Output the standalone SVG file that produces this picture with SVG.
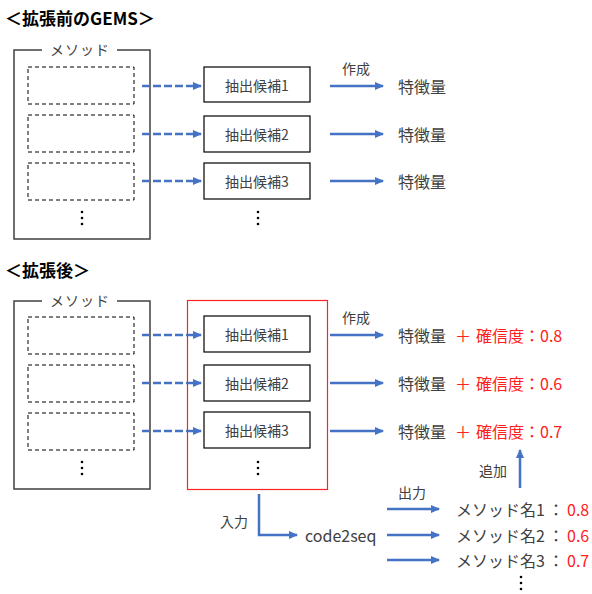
<svg xmlns="http://www.w3.org/2000/svg" width="592" height="594" viewBox="0 0 592 594">
<style>
text{font-family:"Noto Sans CJK JP","Noto Sans",sans-serif;fill:#404040;dominant-baseline:central}
.title{font-weight:bold;font-size:17px;fill:#000}
.frame{fill:none;stroke:#404040;stroke-width:1.5}
.dash{fill:none;stroke:#000;stroke-width:1;stroke-dasharray:4 3}
.cand{fill:#fff;stroke:#000;stroke-width:1.2}
.ct{font-size:14px;text-anchor:middle}
.lbl{font-size:14px}
.fl{font-size:14px;text-anchor:middle;letter-spacing:1px}
.big{font-size:16px}
.red{fill:#FF2020}
.da{stroke:#4472C4;stroke-width:2.5;stroke-dasharray:8 3;fill:none;marker-end:url(#ah)}
.sa{stroke:#4472C4;stroke-width:2.5;fill:none;marker-end:url(#ah)}
.dot{fill:#000}
</style>
<defs>
<marker id="ah" markerWidth="10" markerHeight="10" refX="8" refY="5" orient="auto" markerUnits="userSpaceOnUse">
<path d="M0,1 L9,5 L0,9 Z" fill="#4472C4"/>
</marker>
</defs>

<text class="title" x="5" y="17">＜拡張前のGEMS＞</text>
<text class="title" x="5" y="269">＜拡張後＞</text>

<g id="methods-before">
<path class="frame" d="M42,50 H14 V239 H150 V50 H117"/>
<text class="fl" x="80" y="49">メソッド</text>
<rect class="dash" x="28" y="67" width="106" height="37"/>
<rect class="dash" x="28" y="115" width="106" height="37"/>
<rect class="dash" x="28" y="163" width="106" height="37"/>
<circle class="dot" cx="82" cy="212" r="1.3"/><circle class="dot" cx="82" cy="218" r="1.3"/><circle class="dot" cx="82" cy="224" r="1.3"/>
</g>

<g id="cands-before">
<rect class="cand" x="204" y="67" width="106" height="35"/><text class="ct" x="257" y="84.5">抽出候補1</text>
<rect class="cand" x="204" y="116" width="106" height="36"/><text class="ct" x="257" y="134">抽出候補2</text>
<rect class="cand" x="204" y="163" width="106" height="36"/><text class="ct" x="257" y="181">抽出候補3</text>
<circle class="dot" cx="258" cy="212" r="1.3"/><circle class="dot" cx="258" cy="218" r="1.3"/><circle class="dot" cx="258" cy="224" r="1.3"/>
</g>

<g id="feat-before">
<text class="big" x="398" y="86">特徴量</text>
<text class="big" x="398" y="134">特徴量</text>
<text class="big" x="398" y="181">特徴量</text>
</g>

<g id="methods-after">
<path class="frame" d="M42,301 H14 V489 H150 V301 H117"/>
<text class="fl" x="80" y="300">メソッド</text>
<rect class="dash" x="28" y="317" width="106" height="37"/>
<rect class="dash" x="28" y="365" width="106" height="37"/>
<rect class="dash" x="28" y="413" width="106" height="37"/>
<circle class="dot" cx="82" cy="462" r="1.3"/><circle class="dot" cx="82" cy="468" r="1.3"/><circle class="dot" cx="82" cy="474" r="1.3"/>
</g>

<g id="cands-after">
<rect x="187.5" y="300.5" width="140" height="189" fill="none" stroke="#FF2020" stroke-width="1.2"/>
<rect class="cand" x="204" y="316" width="106" height="36"/><text class="ct" x="257" y="334">抽出候補1</text>
<rect class="cand" x="204" y="365" width="106" height="36"/><text class="ct" x="257" y="383">抽出候補2</text>
<rect class="cand" x="204" y="412" width="106" height="36"/><text class="ct" x="257" y="430">抽出候補3</text>
<circle class="dot" cx="258" cy="462" r="1.3"/><circle class="dot" cx="258" cy="468" r="1.3"/><circle class="dot" cx="258" cy="474" r="1.3"/>
</g>

<g id="feat-after">
<text class="big" x="398" y="335">特徴量<tspan class="red" x="455">＋</tspan><tspan class="red" x="476">確信度：0.8</tspan></text>
<text class="big" x="398" y="383">特徴量<tspan class="red" x="455">＋</tspan><tspan class="red" x="476">確信度：0.6</tspan></text>
<text class="big" x="398" y="431">特徴量<tspan class="red" x="455">＋</tspan><tspan class="red" x="476">確信度：0.7</tspan></text>
</g>

<g id="code2seq">
<text class="big" x="305" y="535">code2seq</text>
</g>

<g id="method-names">
<text class="big" x="456" y="509">メソッド名1<tspan x="548">：</tspan><tspan class="red" x="567">0.8</tspan></text>
<text class="big" x="456" y="535">メソッド名2<tspan x="548">：</tspan><tspan class="red" x="567">0.6</tspan></text>
<text class="big" x="456" y="560">メソッド名3<tspan x="548">：</tspan><tspan class="red" x="567">0.7</tspan></text>
<circle class="dot" cx="521" cy="577" r="1.3"/><circle class="dot" cx="521" cy="583" r="1.3"/><circle class="dot" cx="521" cy="589" r="1.3"/>
</g>

<g id="connectors">
<line class="da" x1="142" y1="86" x2="201" y2="86"/>
<line class="da" x1="142" y1="134" x2="201" y2="134"/>
<line class="da" x1="142" y1="181" x2="201" y2="181"/>
<line class="sa" x1="330" y1="86" x2="383" y2="86"/>
<line class="sa" x1="330" y1="134" x2="383" y2="134"/>
<line class="sa" x1="330" y1="181" x2="383" y2="181"/>
<text class="lbl" x="342" y="68">作成</text>

<line class="da" x1="142" y1="335" x2="201" y2="335"/>
<line class="da" x1="142" y1="383" x2="201" y2="383"/>
<line class="da" x1="142" y1="431" x2="201" y2="431"/>
<line class="sa" x1="330" y1="335" x2="383" y2="335"/>
<line class="sa" x1="330" y1="383" x2="383" y2="383"/>
<line class="sa" x1="330" y1="431" x2="383" y2="431"/>
<text class="lbl" x="342" y="317">作成</text>

<path class="sa" d="M259,494 V535 H297"/>
<text class="lbl" x="220" y="521">入力</text>

<line class="sa" x1="387" y1="509" x2="439" y2="509"/>
<line class="sa" x1="387" y1="535" x2="439" y2="535"/>
<line class="sa" x1="387" y1="560" x2="439" y2="560"/>
<text class="lbl" x="398" y="492">出力</text>

<line class="sa" x1="520" y1="488" x2="520" y2="450"/>
<text class="lbl" x="479" y="470">追加</text>
</g>
</svg>
